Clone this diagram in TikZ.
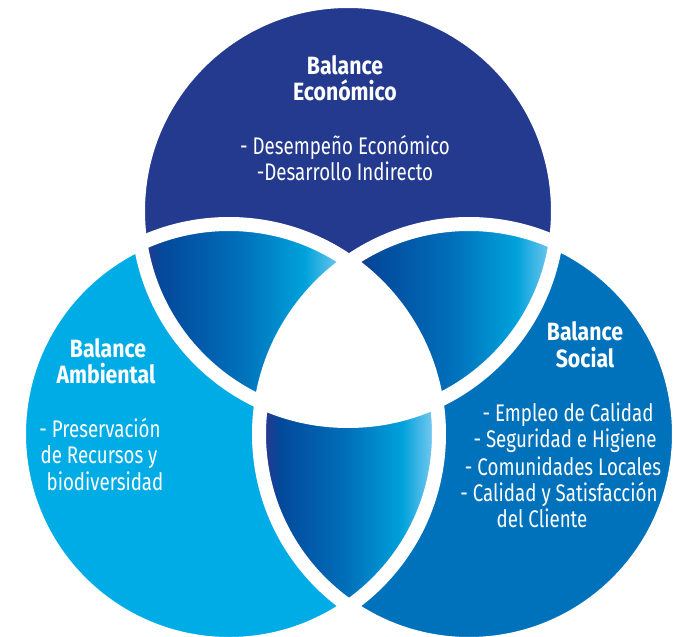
\documentclass[tikz,border=0pt]{standalone}
\usepackage{fontspec}
\setmainfont{Fira Sans}[FakeStretch=0.78]
\newfontfamily\headfont{Fira Sans}[FakeStretch=0.85]
\definecolor{cnavy}{HTML}{243A8F}
\definecolor{clight}{HTML}{00ACE6}
\definecolor{cmid}{HTML}{0072BC}
\definecolor{gnavy}{HTML}{263A8E}
\definecolor{gdark}{HTML}{03489B}
\definecolor{gmid}{HTML}{0071BB}
\definecolor{gcyan}{HTML}{00A2DB}
\definecolor{glight}{HTML}{72C7EE}
\pgfdeclarehorizontalshading{lensgrad}{100bp}{color(0bp)=(gnavy); color(25bp)=(gnavy); color(29bp)=(gdark); color(50bp)=(gmid); color(66bp)=(gcyan); color(75bp)=(glight); color(100bp)=(glight)}
\begin{document}
\begin{tikzpicture}[x=1pt,y=-1pt,
  head/.style={font=\headfont\bfseries\fontsize{25}{26}\selectfont, text=white, inner sep=0pt, anchor=base},
  body/.style={font=\fontsize{24}{26}\selectfont, text=white, inner sep=0pt, anchor=base},
  ring/.style={draw=white, line width=14pt}]
\useasboundingbox (0,0) rectangle (678,637);
\coordinate (cT) at (348,211);
\coordinate (cL) at (229,434);
\coordinate (cR) at (469,434);
% circle fills
\fill[cnavy] (cT) circle (210pt);
\fill[clight] (cL) circle (210pt);
\fill[cmid] (cR) circle (210pt);
% lenses
\begin{scope}
  \clip (cT) circle (210pt);
  \clip (cL) circle (210pt);
  \shade[shading=lensgrad] (146,220) rectangle (340,440);
\end{scope}
\begin{scope}
  \clip (cT) circle (210pt);
  \clip (cR) circle (210pt);
  \shade[shading=lensgrad] (357,220) rectangle (551,440);
\end{scope}
\begin{scope}
  \clip (cL) circle (210pt);
  \clip (cR) circle (210pt);
  \shade[shading=lensgrad] (266,380) rectangle (432,610);
\end{scope}
% centre
\begin{scope}
  \clip (cT) circle (210pt);
  \clip (cL) circle (210pt);
  \fill[white] (cR) circle (210pt);
\end{scope}
% white rings
\draw[ring] (cT) circle (210pt);
\draw[ring] (cL) circle (210pt);
\draw[ring] (cR) circle (210pt);
% texts: top
\node[head] (th1) at (345,74) {Balance};
\node[head] (th2) at (345,100) {Económico};
\node[body] (tb1) at (345,154) {- Desempeño Económico};
\node[body] (tb2) at (345,180) {-Desarrollo Indirecto};
% left
\node[head] (lh1) at (108,357) {Balance};
\node[head] (lh2) at (106,383) {Ambiental};
\node[body] (lb1) at (100,437) {- Preservación};
\node[body] (lb2) at (99,463) {de Recursos y};
\node[body] (lb3) at (105,490) {biodiversidad};
% right
\node[head] (rh1) at (585,340) {Balance};
\node[head] (rh2) at (585,367) {Social};
\node[body] (rb1) at (568,421) {- Empleo de Calidad};
\node[body] (rb2) at (565,447) {- Seguridad e Higiene};
\node[body] (rb3) at (563,475) {- Comunidades Locales};
\node[body] (rb4) at (559,501) {- Calidad y Satisfacción};
\node[body] (rb5) at (542,527) {del Cliente};
\end{tikzpicture}
\end{document}
